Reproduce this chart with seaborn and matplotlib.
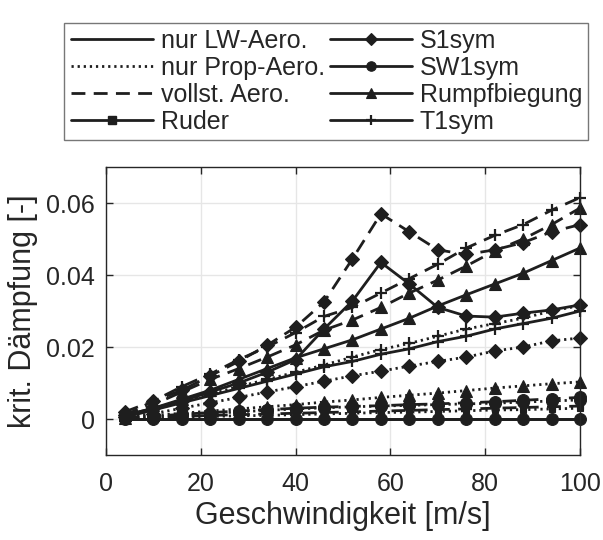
import numpy as np
import pandas as pd
import seaborn as sns
import matplotlib.pyplot as plt
from matplotlib.lines import Line2D

# -------------------------------
# Data
# -------------------------------
speed = [4, 10, 16, 22, 28, 34, 40, 46, 52, 58, 64, 70, 76, 82, 88, 94, 100]

# nur LW-Aero. (solid)
lw_ruder = [0, 0, 0, 0, 0, 0, 0, 0, 0, 0, 0, 0, 0, 0, 0, 0, 0]
lw_s1 = [0.001, 0.003, 0.005, 0.0075, 0.010, 0.013, 0.0165, 0.025, 0.0328,
         0.0435, 0.0375, 0.031, 0.0286, 0.0283, 0.0294, 0.0303, 0.0317]
lw_sw1 = [0, 0, 0, 0, 0, 0, 0, 0, 0, 0, 0, 0, 0, 0, 0, 0, 0]
lw_rumpf = [0.001, 0.003, 0.0055, 0.008, 0.011, 0.014, 0.017, 0.0195, 0.022,
            0.025, 0.028, 0.0314, 0.0345, 0.0375, 0.0405, 0.044, 0.0475]
lw_t1 = [0.0005, 0.0025, 0.0045, 0.0065, 0.0085, 0.0105, 0.0125, 0.0145, 0.016,
         0.018, 0.0195, 0.0215, 0.023, 0.025, 0.0265, 0.028, 0.030]

# nur Prop-Aero. (dotted)
prop_ruder = [0.0001, 0.0003, 0.0005, 0.0007, 0.0009, 0.001, 0.0012, 0.0014, 0.0016,
              0.0018, 0.0019, 0.0021, 0.0023, 0.0025, 0.0026, 0.0028, 0.003]
prop_s1 = [0.0005, 0.0015, 0.003, 0.0045, 0.006, 0.0075, 0.009, 0.0105, 0.012,
           0.0133, 0.0147, 0.016, 0.0172, 0.0189, 0.020, 0.0217, 0.0225]
prop_sw1 = [0.0002, 0.0006, 0.001, 0.0015, 0.002, 0.0024, 0.0028, 0.0031, 0.0034,
            0.0036, 0.0038, 0.004, 0.0042, 0.0044, 0.0047, 0.005, 0.0053]
prop_rumpf = [0.0004, 0.001, 0.0016, 0.0022, 0.0028, 0.0034, 0.004, 0.0047, 0.0053,
              0.006, 0.0066, 0.0072, 0.0079, 0.0086, 0.0092, 0.0098, 0.0103]
prop_t1 = [0.0006, 0.0027, 0.0048, 0.0069, 0.009, 0.011, 0.013, 0.015, 0.0172,
           0.0193, 0.021, 0.023, 0.025, 0.0265, 0.028, 0.030, 0.0315]

# vollst. Aero. (dashed)
voll_ruder = [0.0001, 0.0004, 0.0007, 0.001, 0.0012, 0.0014, 0.0016, 0.0018, 0.002,
              0.0022, 0.0024, 0.0026, 0.0028, 0.003, 0.0032, 0.0034, 0.0036]
voll_s1 = [0.002, 0.005, 0.008, 0.012, 0.016, 0.0205, 0.0255, 0.0325, 0.0445,
           0.057, 0.052, 0.047, 0.0457, 0.047, 0.049, 0.052, 0.054]
voll_sw1 = [0.0003, 0.0008, 0.0013, 0.0018, 0.0022, 0.0026, 0.003, 0.0033, 0.0035,
            0.0037, 0.004, 0.0042, 0.0045, 0.0048, 0.0052, 0.0056, 0.006]
voll_rumpf = [0.001, 0.004, 0.0075, 0.011, 0.014, 0.0172, 0.0206, 0.0247, 0.0275,
              0.031, 0.035, 0.0386, 0.0425, 0.0467, 0.050, 0.054, 0.0586]
voll_t1 = [0.001, 0.005, 0.009, 0.0125, 0.0165, 0.020, 0.024, 0.0285, 0.031,
           0.035, 0.039, 0.043, 0.0475, 0.051, 0.054, 0.058, 0.0615]

aero_labels = ["nur LW-Aero.", "nur Prop-Aero.", "vollst. Aero."]
mode_labels = ["Ruder", "S1sym", "SW1sym", "Rumpfbiegung", "T1sym"]

series = {
    "nur LW-Aero.": [lw_ruder, lw_s1, lw_sw1, lw_rumpf, lw_t1],
    "nur Prop-Aero.": [prop_ruder, prop_s1, prop_sw1, prop_rumpf, prop_t1],
    "vollst. Aero.": [voll_ruder, voll_s1, voll_sw1, voll_rumpf, voll_t1],
}

# -------------------------------
# Styles
# -------------------------------
col = "#1e1e1e"
lstyles = {"nur LW-Aero.": "-", "nur Prop-Aero.": (0, (0.8, 1.4)),
           "vollst. Aero.": (0, (5, 3))}
markers = {"Ruder": ("s", 4), "S1sym": ("D", 7.5), "SW1sym": ("o", 8.5),
           "Rumpfbiegung": ("^", 9), "T1sym": ("+", 9)}

sns.set_theme(style="white")
plt.rcParams["font.family"] = ["Liberation Sans", "DejaVu Sans"]

fig = plt.figure(figsize=(6.03, 5.4), dpi=100)
ax = fig.add_axes([0.1758, 0.1574, 0.786, 0.5333])

for aero in aero_labels:
    for mode, vals in zip(mode_labels, series[aero]):
        m, ms = markers[mode]
        sns.lineplot(x=speed, y=vals, ax=ax, color=col, linestyle=lstyles[aero],
                     lw=2, marker=m, markersize=ms, markeredgecolor=col,
                     markerfacecolor=col, markeredgewidth=1.6 if m == "+" else 0.8,
                     legend=False, clip_on=False)

ax.set_xlim(0, 100)
ax.set_ylim(-0.01, 0.07)
ax.set_xticks([0, 20, 40, 60, 80, 100])
ax.set_yticks([0, 0.02, 0.04, 0.06])
ax.set_yticklabels(["0", "0.02", "0.04", "0.06"])
ax.grid(True, color="#e6e6e6", lw=1)
ax.set_axisbelow(True)
for s in ax.spines.values():
    s.set_color("#262626")
    s.set_linewidth(1)
ax.tick_params(direction="in", length=5, width=1, colors="#262626",
               labelsize=18, top=True, right=True, bottom=True, left=True)
ax.tick_params(axis="x", pad=12)
ax.tick_params(axis="y", pad=8)
ax.set_xlabel("Geschwindigkeit [m/s]", fontsize=22, color="#262626", labelpad=4)
ax.set_ylabel("krit. Dämpfung [-]", fontsize=22, color="#262626", labelpad=6)

# -------------------------------
# Legend (two columns)
# -------------------------------
handles = []
labels = []
for aero in aero_labels:
    handles.append(Line2D([], [], color=col, lw=2, linestyle=lstyles[aero]))
    labels.append(aero)
m, ms = markers["Ruder"]
handles.append(Line2D([], [], color=col, lw=2, marker=m, markersize=ms + 1.5))
labels.append("Ruder")
for mode in ["S1sym", "SW1sym", "Rumpfbiegung", "T1sym"]:
    m, ms = markers[mode]
    handles.append(Line2D([], [], color=col, lw=2, marker=m,
                          markersize=ms * 0.8, markeredgewidth=1.6 if m == "+" else 0.8))
    labels.append(mode)

leg = fig.legend(handles, labels, ncol=2, loc="upper left",
                 bbox_to_anchor=(0.086, 0.981), fontsize=18, frameon=True,
                 fancybox=False, edgecolor="#555555", handlelength=3.3,
                 handletextpad=0.3, columnspacing=0.2, labelspacing=0.12,
                 borderpad=0.25, numpoints=1)
leg.get_frame().set_linewidth(1)
for t in leg.get_texts():
    t.set_color("#262626")

fig.savefig("out.png", dpi=100)
